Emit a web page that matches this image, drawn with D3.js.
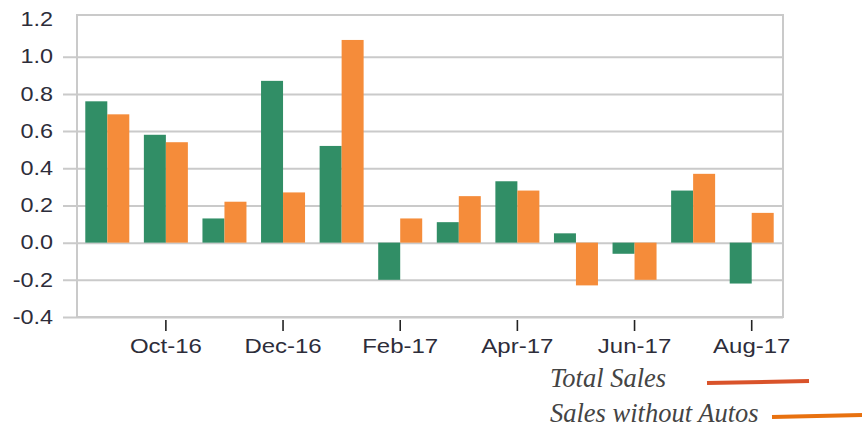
<!DOCTYPE html>
<html>
<head>
<meta charset="utf-8">
<script src="https://cdn.jsdelivr.net/npm/d3@7"></script>
<style>
  body { margin: 0; background: #fff; }
  #chart { width: 862px; height: 429px; }
</style>
</head>
<body>
<div id="chart"></div>
<script>
// data
const months = ["Sep-16", "Oct-16", "Nov-16", "Dec-16", "Jan-17", "Feb-17",
                "Mar-17", "Apr-17", "May-17", "Jun-17", "Jul-17", "Aug-17"];
const totalSales   = [0.76, 0.58, 0.13, 0.87, 0.52, -0.20, 0.11, 0.33, 0.05, -0.06, 0.28, -0.22];
const salesExAutos = [0.69, 0.54, 0.22, 0.27, 1.09, 0.13, 0.25, 0.28, -0.23, -0.20, 0.37, 0.16];
const seriesNames  = ["Total Sales", "Sales without Autos"];
const yTicks       = [-0.4, -0.2, 0.0, 0.2, 0.4, 0.6, 0.8, 1.0, 1.2];
const xTickLabels  = ["Oct-16", "Dec-16", "Feb-17", "Apr-17", "Jun-17", "Aug-17"];

document.addEventListener("DOMContentLoaded", function() {
    const width = 862, height = 429;
    const plot = {left: 77, right: 783, top: 15, bottom: 317};
    const barColors = ["#318e66", "#f58c3a"];
    const legendColors = ["#d9532a", "#e8710f"];
    const stretchX = 1.2; // tick text in the picture is wider than plain Arial

    const svg = d3.select("#chart").append("svg")
        .attr("width", width)
        .attr("height", height);

    const y = d3.scaleLinear()
        .domain([-0.4, 1.2])
        .range([plot.bottom, 19.5]);

    const x0 = d3.scaleBand()
        .domain(months)
        .range([78, 781]);

    const x1 = d3.scaleBand()
        .domain([0, 1])
        .range([0, 44]);

    // y axis with gridlines
    const yAxis = svg.append("g")
        .attr("transform", "translate(63,0)")
        .call(d3.axisLeft(y)
            .tickValues(yTicks)
            .tickFormat(d => d.toFixed(1)) // plain hyphen, like the picture
            .tickSize(-(plot.right - 63))
            .tickPadding(10));
    yAxis.select(".domain").remove();
    yAxis.selectAll(".tick line")
        .attr("stroke", "#cacaca")
        .attr("stroke-width", 2)
        .filter(d => d === 1.2).remove();
    yAxis.selectAll(".tick text")
        .attr("x", -10 / stretchX)
        .attr("transform", `scale(${stretchX},1)`)
        .attr("fill", "#2d2d3a")
        .style("font-family", "'Liberation Sans', Arial, sans-serif")
        .style("font-size", "19.5px");

    // plot frame
    svg.append("rect")
        .attr("x", plot.left)
        .attr("y", plot.top)
        .attr("width", plot.right - plot.left)
        .attr("height", plot.bottom - plot.top)
        .attr("fill", "none")
        .attr("stroke", "#cacaca")
        .attr("stroke-width", 2);

    // bars
    const series = [totalSales, salesExAutos];
    const groups = svg.append("g").selectAll("g")
        .data(months)
        .join("g")
        .attr("transform", d => `translate(${x0(d) + x0.bandwidth() / 2 - 22},0)`);

    groups.selectAll("rect")
        .data((m, i) => series.map((s, k) => ({k: k, v: s[i]})))
        .join("rect")
        .attr("x", d => x1(d.k))
        .attr("width", x1.bandwidth())
        .attr("y", d => y(Math.max(0, d.v)))
        .attr("height", d => Math.abs(y(d.v) - y(0)))
        .attr("fill", d => barColors[d.k]);

    // x axis
    const xAxis = svg.append("g")
        .attr("transform", "translate(0,320)")
        .call(d3.axisBottom(x0)
            .tickValues(xTickLabels)
            .tickSize(11)
            .tickPadding(8));
    xAxis.select(".domain").remove();
    xAxis.selectAll(".tick line")
        .attr("stroke", "#222")
        .attr("stroke-width", 1.6);
    xAxis.selectAll(".tick text")
        .attr("y", 19)
        .attr("transform", `scale(${stretchX},1)`)
        .attr("fill", "#2d2d3a")
        .style("font-family", "'Liberation Sans', Arial, sans-serif")
        .style("font-size", "20px");

    // legend in the bottom right corner
    const legendPos = [
        {tx: 550, ty: 387, x1: 707, y1: 383, x2: 809, y2: 381},
        {tx: 550, ty: 422, x1: 772, y1: 417, x2: 862, y2: 415}
    ];
    const legend = svg.append("g").selectAll("g")
        .data(seriesNames)
        .join("g");
    legend.append("text")
        .attr("x", (d, i) => legendPos[i].tx)
        .attr("y", (d, i) => legendPos[i].ty)
        .attr("fill", "#444")
        .style("font-family", "'Liberation Serif', 'Times New Roman', serif")
        .style("font-style", "italic")
        .style("font-size", "26.5px")
        .text(d => d);
    legend.append("line")
        .attr("x1", (d, i) => legendPos[i].x1)
        .attr("y1", (d, i) => legendPos[i].y1)
        .attr("x2", (d, i) => legendPos[i].x2)
        .attr("y2", (d, i) => legendPos[i].y2)
        .attr("stroke", (d, i) => legendColors[i])
        .attr("stroke-width", 4);
});
</script>
</body>
</html>
